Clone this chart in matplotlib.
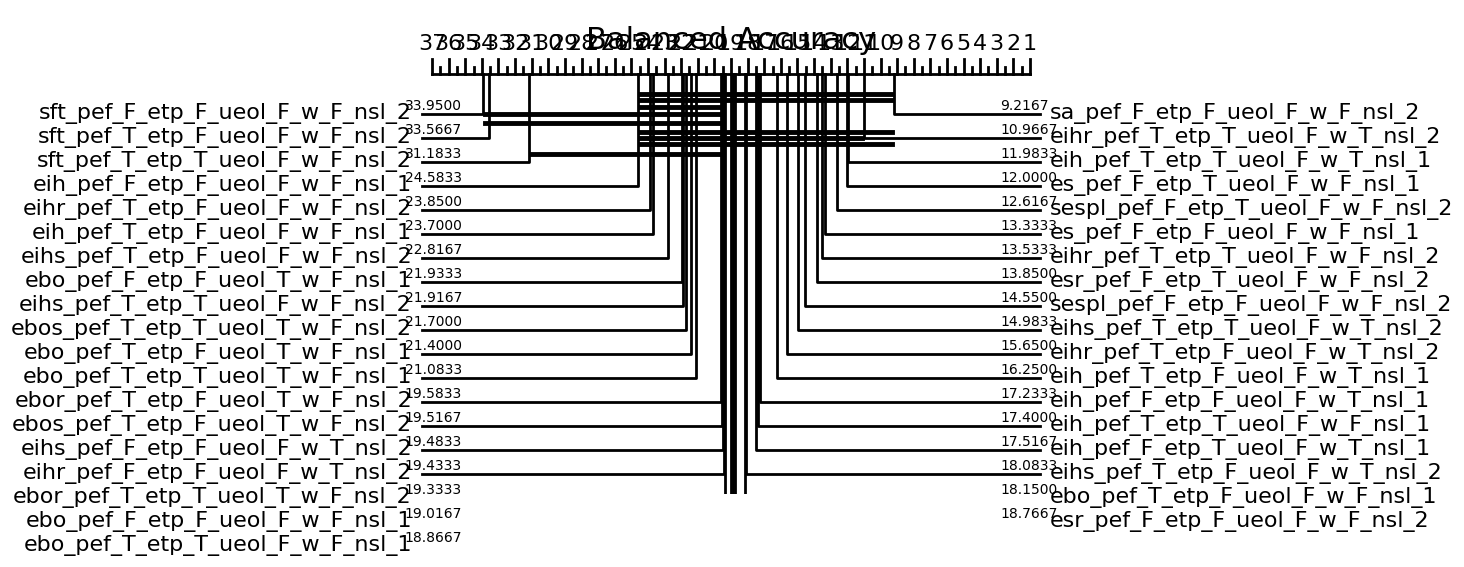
import matplotlib
matplotlib.use("Agg")
import matplotlib.pyplot as plt

# ---------------- data ----------------
title = "Balanced Accuracy"
rank_low, rank_high = 1, 37

left_names = [
    "sft_pef_F_etp_F_ueol_F_w_F_nsl_2", "sft_pef_T_etp_F_ueol_F_w_F_nsl_2",
    "sft_pef_T_etp_T_ueol_F_w_F_nsl_2", "eih_pef_F_etp_F_ueol_F_w_F_nsl_1",
    "eihr_pef_T_etp_F_ueol_F_w_F_nsl_2", "eih_pef_T_etp_F_ueol_F_w_F_nsl_1",
    "eihs_pef_T_etp_F_ueol_F_w_F_nsl_2", "ebo_pef_F_etp_F_ueol_T_w_F_nsl_1",
    "eihs_pef_T_etp_T_ueol_F_w_F_nsl_2", "ebos_pef_T_etp_T_ueol_T_w_F_nsl_2",
    "ebo_pef_T_etp_F_ueol_T_w_F_nsl_1", "ebo_pef_T_etp_T_ueol_T_w_F_nsl_1",
    "ebor_pef_T_etp_F_ueol_T_w_F_nsl_2", "ebos_pef_T_etp_F_ueol_T_w_F_nsl_2",
    "eihs_pef_F_etp_F_ueol_F_w_T_nsl_2", "eihr_pef_F_etp_F_ueol_F_w_T_nsl_2",
    "ebor_pef_T_etp_T_ueol_T_w_F_nsl_2", "ebo_pef_F_etp_F_ueol_F_w_F_nsl_1",
    "ebo_pef_T_etp_T_ueol_F_w_F_nsl_1",
]
left_ranks = [33.9500, 33.5667, 31.1833, 24.5833, 23.8500, 23.7000, 22.8167,
              21.9333, 21.9167, 21.7000, 21.4000, 21.0833, 19.5833, 19.5167,
              19.4833, 19.4333, 19.3333, 19.0167, 18.8667]

right_names = [
    "sa_pef_F_etp_F_ueol_F_w_F_nsl_2", "eihr_pef_T_etp_T_ueol_F_w_T_nsl_2",
    "eih_pef_T_etp_T_ueol_F_w_T_nsl_1", "es_pef_F_etp_T_ueol_F_w_F_nsl_1",
    "sespl_pef_F_etp_T_ueol_F_w_F_nsl_2", "es_pef_F_etp_F_ueol_F_w_F_nsl_1",
    "eihr_pef_T_etp_T_ueol_F_w_F_nsl_2", "esr_pef_F_etp_T_ueol_F_w_F_nsl_2",
    "sespl_pef_F_etp_F_ueol_F_w_F_nsl_2", "eihs_pef_T_etp_T_ueol_F_w_T_nsl_2",
    "eihr_pef_T_etp_F_ueol_F_w_T_nsl_2", "eih_pef_T_etp_F_ueol_F_w_T_nsl_1",
    "eih_pef_F_etp_F_ueol_F_w_T_nsl_1", "eih_pef_T_etp_T_ueol_F_w_F_nsl_1",
    "eih_pef_F_etp_T_ueol_F_w_T_nsl_1", "eihs_pef_T_etp_F_ueol_F_w_T_nsl_2",
    "ebo_pef_T_etp_F_ueol_F_w_F_nsl_1", "esr_pef_F_etp_F_ueol_F_w_F_nsl_2",
]
right_ranks = [9.2167, 10.9667, 11.9833, 12.0000, 12.6167, 13.3333, 13.5333,
               13.8500, 14.5500, 14.9833, 15.6500, 16.2500, 17.2333, 17.4000,
               17.5167, 18.0833, 18.1500, 18.7667]

# groups of non-significantly different methods (worst rank, best rank)
clique_worst = [24.5833, 24.5833, 24.5833, 33.9500, 33.9500,
                24.5833, 24.5833, 24.5833, 31.1833]
clique_best = [9.2167, 9.2167, 19.5833, 19.5833, 19.5833,
               9.2167, 10.9667, 9.2167, 19.5833]

# ---------------- layout (pixels) ----------------
W, H, DPI = 1464, 567, 100
X_AXIS_L, X_AXIS_R = 432, 1030
CLINE = 74
ROW0, ROW_STEP = 114, 24
CLIP = 494
BAR_Y = [94, 100, 107, 114, 123, 132, 138, 144, 154]

S = (X_AXIS_R - X_AXIS_L) / (rank_high - rank_low)  # px per rank


def px(p):
    return p / S


fig = plt.figure(figsize=(W / DPI, H / DPI), dpi=DPI)
fig.set_facecolor("white")
ax = fig.add_axes([0, 1 - CLIP / H, 1, CLIP / H])
ax.set_axis_off()
ax.set_xlim(rank_high + px(X_AXIS_L), rank_high - px(W - X_AXIS_L))
ax.set_ylim(CLIP, 0)

# axis line and ticks
ax.plot([rank_high, rank_low], [CLINE, CLINE], color="k", lw=2)
half = 0.5
a = rank_low
while a <= rank_high + 1e-9:
    tick = 15 if abs(a - round(a)) < 1e-9 else 7.5
    ax.plot([a, a], [CLINE - tick, CLINE], color="k", lw=2)
    a += half
for r in range(rank_low, rank_high + 1):
    ax.text(r, CLINE - 20, str(r), ha="center", va="bottom", size=16)

ax.text((rank_low + rank_high) / 2, 49, title, ha="center", va="baseline", size=22)

# left side
for i, (name, r) in enumerate(zip(left_names, left_ranks)):
    y = ROW0 + i * ROW_STEP
    xe = rank_high + px(10)
    ax.plot([r, r, xe], [CLINE, y, y], color="k", lw=2)
    ax.text(rank_high - px(30), y - 7.5, f"{r:.4f}", ha="right", va="center", size=10)
    ax.text(rank_high + px(20), y, name, ha="right", va="center", size=16)

# right side
for i, (name, r) in enumerate(zip(right_names, right_ranks)):
    y = ROW0 + i * ROW_STEP
    xe = rank_low - px(10)
    ax.plot([r, r, xe], [CLINE, y, y], color="k", lw=2)
    ax.text(rank_low + px(30), y - 7.5, f"{r:.4f}", ha="left", va="center", size=10)
    ax.text(rank_low - px(20), y, name, ha="left", va="center", size=16)

# clique bars
for w, b, y in zip(clique_worst, clique_best, BAR_Y):
    ax.plot([w - px(2), b + px(2)], [y, y], color="k", lw=3.5)

fig.savefig("out.png", dpi=DPI)
